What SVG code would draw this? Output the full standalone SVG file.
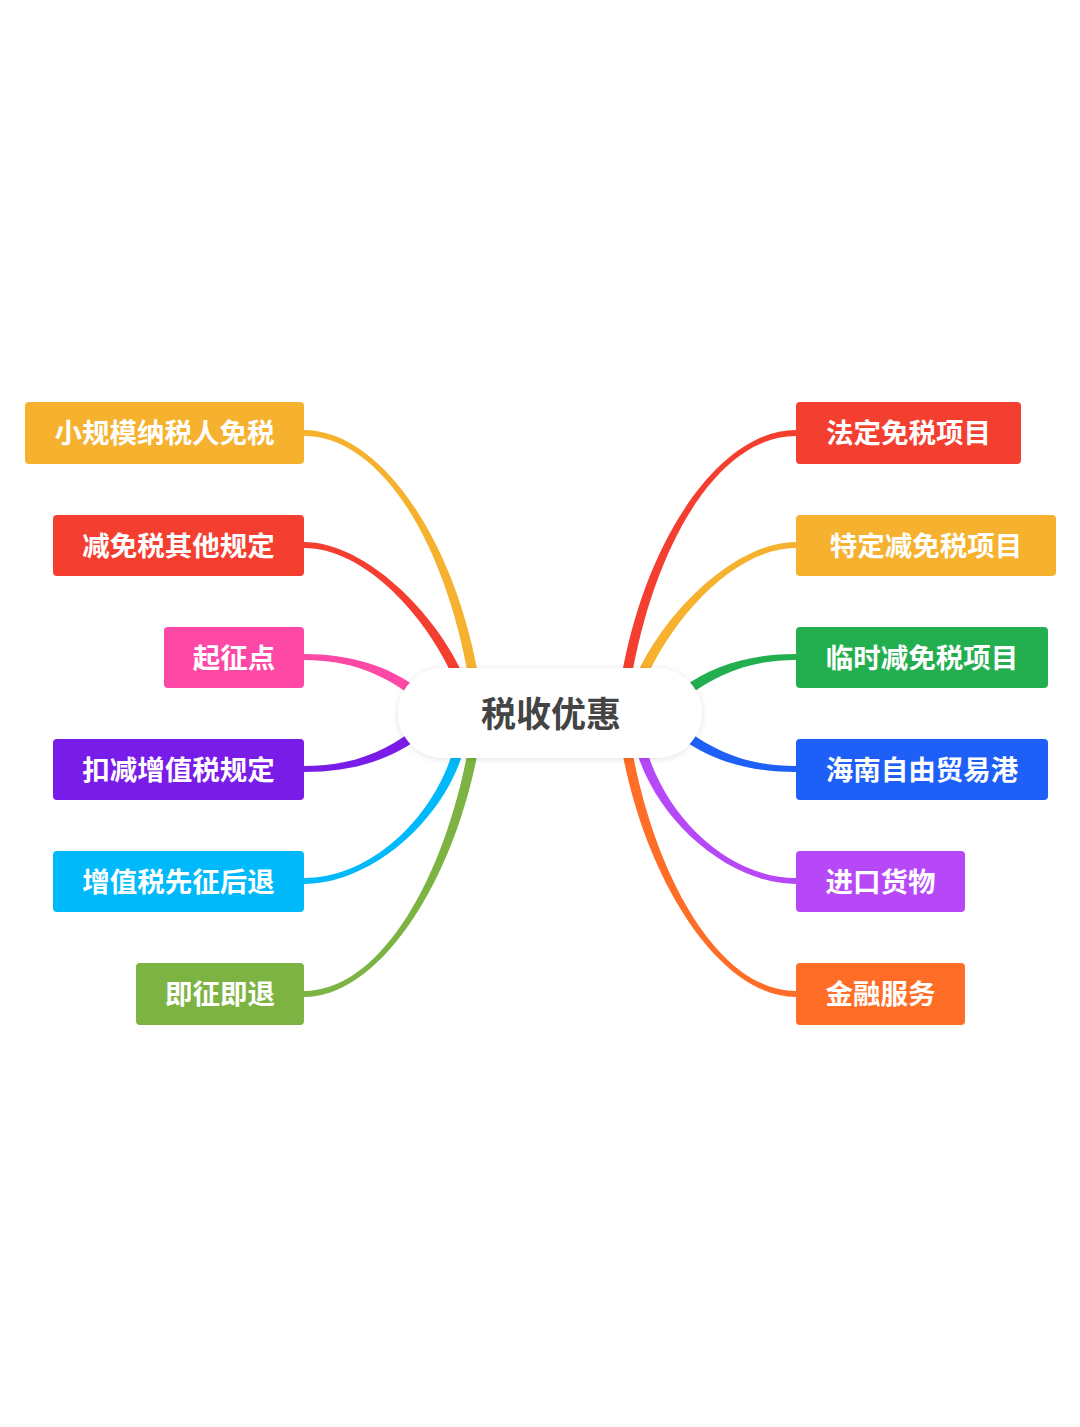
<svg xmlns="http://www.w3.org/2000/svg" width="1080" height="1427" viewBox="0 0 1080 1427">
<defs>
<style>
.lbl{font-family:"Noto Sans CJK SC","Noto Sans",sans-serif;font-weight:700;font-size:27.5px;fill:#ffffff;text-anchor:middle}
.ctr{font-family:"Noto Sans CJK SC","Noto Sans",sans-serif;font-weight:700;font-size:35px;fill:#444444;text-anchor:middle}
</style>
<filter id="sh" x="-20%" y="-40%" width="140%" height="180%">
<feDropShadow dx="0" dy="1" stdDeviation="3" flood-color="#000000" flood-opacity="0.12"/>
</filter>
</defs>
<rect width="1080" height="1427" fill="#ffffff"/>
<g id="connectors">
<path fill="#F6B12E" d="M304,436 C380,436 445.07,540.85 469.07,680.85 L478.93,679.15 C454.93,539.15 380,430 304,430 Z"/>
<path fill="#F43E2F" d="M304,548 C365,548 427.41,616.98 455.41,681.98 L464.59,678.02 C436.59,613.02 365,542 304,542 Z"/>
<path fill="#FD49A5" d="M304,660 C350,660 382.04,674.03 412.04,696.03 L417.96,687.97 C387.96,665.97 350,654 304,654 Z"/>
<path fill="#7A1CE8" d="M304,772 C350,772 387.96,761.03 417.96,739.03 L412.04,730.97 C382.04,752.97 350,766 304,766 Z"/>
<path fill="#00B9FB" d="M304,884 C370,884 444.83,821.29 464.83,746.29 L455.17,743.71 C435.17,818.71 370,878 304,878 Z"/>
<path fill="#7CB342" d="M304,997 C380,997 454.93,880.88 478.93,745.88 L469.07,744.12 C445.07,879.12 380,991 304,991 Z"/>
<path fill="#F43E2F" d="M796,436 C720,436 654.93,540.85 630.93,680.85 L621.07,679.15 C645.07,539.15 720,430 796,430 Z"/>
<path fill="#F6B12E" d="M796,548 C735,548 672.59,616.98 644.59,681.98 L635.41,678.02 C663.41,613.02 735,542 796,542 Z"/>
<path fill="#23AE4F" d="M796,660 C750,660 717.96,674.03 687.96,696.03 L682.04,687.97 C712.04,665.97 750,654 796,654 Z"/>
<path fill="#1E60F7" d="M796,772 C750,772 712.04,761.03 682.04,739.03 L687.96,730.97 C717.96,752.97 750,766 796,766 Z"/>
<path fill="#B748F7" d="M796,884 C730,884 655.17,821.29 635.17,746.29 L644.83,743.71 C664.83,818.71 730,878 796,878 Z"/>
<path fill="#FF6D27" d="M796,997 C720,997 645.07,880.88 621.07,745.88 L630.93,744.12 C654.93,879.12 720,991 796,991 Z"/>
</g>
<g id="center">
<rect x="398" y="668" width="304" height="90" rx="45" fill="#ffffff" filter="url(#sh)"/>
<text class="ctr" x="551" y="727">税收优惠</text>
</g>
<g id="n-l1"><rect x="25" y="402" width="279" height="62" rx="4" fill="#F6B12E"/><text class="lbl" x="164.5" y="443">小规模纳税人免税</text></g>
<g id="n-l2"><rect x="53" y="515" width="251" height="61" rx="4" fill="#F43E2F"/><text class="lbl" x="178.5" y="555.5">减免税其他规定</text></g>
<g id="n-l3"><rect x="164" y="627" width="140" height="61" rx="4" fill="#FD49A5"/><text class="lbl" x="234" y="667.5">起征点</text></g>
<g id="n-l4"><rect x="53" y="739" width="251" height="61" rx="4" fill="#7A1CE8"/><text class="lbl" x="178.5" y="779.5">扣减增值税规定</text></g>
<g id="n-l5"><rect x="53" y="851" width="251" height="61" rx="4" fill="#00B9FB"/><text class="lbl" x="178.5" y="891.5">增值税先征后退</text></g>
<g id="n-l6"><rect x="136" y="963" width="168" height="62" rx="4" fill="#7CB342"/><text class="lbl" x="220" y="1004">即征即退</text></g>
<g id="n-r1"><rect x="796" y="402" width="225" height="62" rx="4" fill="#F43E2F"/><text class="lbl" x="908.5" y="443">法定免税项目</text></g>
<g id="n-r2"><rect x="796" y="515" width="260" height="61" rx="4" fill="#F6B12E"/><text class="lbl" x="926" y="555.5">特定减免税项目</text></g>
<g id="n-r3"><rect x="796" y="627" width="252" height="61" rx="4" fill="#23AE4F"/><text class="lbl" x="922" y="667.5">临时减免税项目</text></g>
<g id="n-r4"><rect x="796" y="739" width="252" height="61" rx="4" fill="#1E60F7"/><text class="lbl" x="922" y="779.5">海南自由贸易港</text></g>
<g id="n-r5"><rect x="796" y="851" width="169" height="61" rx="4" fill="#B748F7"/><text class="lbl" x="880.5" y="891.5">进口货物</text></g>
<g id="n-r6"><rect x="796" y="963" width="169" height="62" rx="4" fill="#FF6D27"/><text class="lbl" x="880.5" y="1004">金融服务</text></g>
</svg>
